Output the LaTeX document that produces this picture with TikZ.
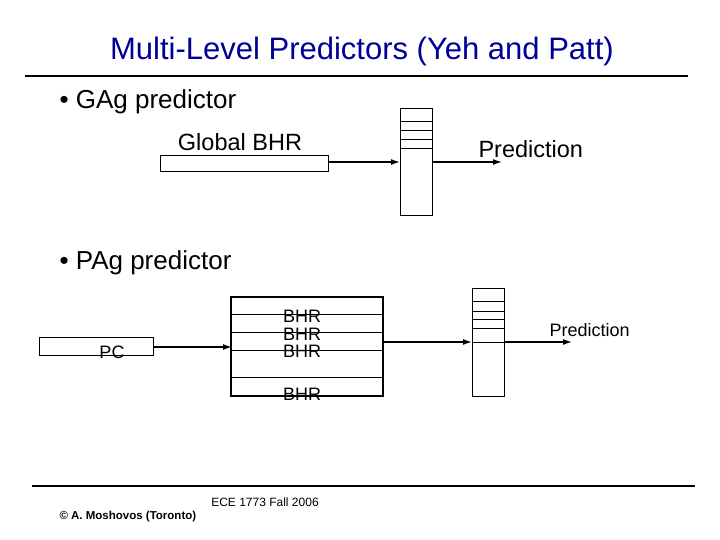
\documentclass[tikz,border=0pt]{standalone}
\usepackage{fontspec}
\setmainfont{Liberation Sans}
\usetikzlibrary{arrows.meta,positioning}
\definecolor{titleBlue}{RGB}{0,0,153}
\tikzset{
  regbox/.style={draw,line width=0.8pt},
  flow/.style={-{Latex[length=9pt,width=6pt]},line width=1.4pt},
  rule/.style={line width=2.2pt}
}
\begin{document}
\begin{tikzpicture}[x=1pt,y=-1pt]
\useasboundingbox[fill=white] (0,0) rectangle (720,540);
\node[titleBlue,font=\fontsize{31}{36}\selectfont] (title) at (362,51) {Multi-Level Predictors (Yeh and Patt)};
\draw[rule] (25,76) -- (688,76);

% GAg predictor
\node[anchor=west,font=\fontsize{26}{30}\selectfont] (gag) at (56,102) {• GAg predictor};
\node[regbox,minimum width=168pt,minimum height=16pt,inner sep=0pt] (gbhr) at (244,163) {};
\node[font=\fontsize{23.5}{26}\selectfont] (gbhrlbl) at (240,142) {Global BHR};
\node[regbox,minimum width=32pt,minimum height=107pt,inner sep=0pt] (gtab) at (416,161.5) {};
\foreach \yy in {121,130,139,148} \draw[line width=0.6pt] (400,\yy) -- (432,\yy);
\coordinate (gin) at (400,162);
\coordinate (gout) at (502,162);
\draw[flow] (gbhr.east |- gin) -- (gin);
\draw[flow] (gtab.east |- gout) -- (gout);
\node[anchor=west,font=\fontsize{23.5}{26}\selectfont] (gpred) at (475,149) {Prediction};

% PAg predictor
\node[anchor=west,font=\fontsize{26}{30}\selectfont] (pag) at (56,263) {• PAg predictor};
\node[regbox,minimum width=114pt,minimum height=18pt,inner sep=0pt] (pc) at (96,346) {};
\node[font=\fontsize{18}{20}\selectfont] (pclbl) at (112,352) {PC};
\node[draw,line width=2pt,minimum width=152pt,minimum height=99pt,inner sep=0pt] (bhrs) at (307,346.5) {};
\foreach \yy in {314,332,350,377} \draw[line width=0.6pt] (232,\yy) -- (383,\yy);
\foreach \yy/\nm in {316/b1,334/b2,351/b3,394/b4}
  \node[font=\fontsize{18}{20}\selectfont] (\nm) at (302,\yy) {BHR};
\coordinate (pin) at (232,347);
\draw[flow] (pc.east |- pin) -- (pin);
\node[regbox,minimum width=32pt,minimum height=108pt,inner sep=0pt] (ptab) at (488,342) {};
\foreach \yy in {301,311,319,328,342} \draw[line width=0.6pt] (472,\yy) -- (504,\yy);
\coordinate (tin) at (472,342);
\coordinate (pout) at (572,342);
\draw[flow] (bhrs.east |- tin) -- (tin);
\draw[flow] (ptab.east |- pout) -- (pout);
\node[anchor=west,font=\fontsize{18}{20}\selectfont] (ppred) at (546,330) {Prediction};

% footer
\draw[rule] (32,486) -- (695,486);
\node[font=\fontsize{12}{14}\selectfont] (course) at (265,502) {ECE 1773 Fall 2006};
\node[anchor=west,font=\bfseries\fontsize{11.5}{14}\selectfont] (author) at (56,517) {© A. Moshovos (Toronto)};
\end{tikzpicture}
\end{document}
